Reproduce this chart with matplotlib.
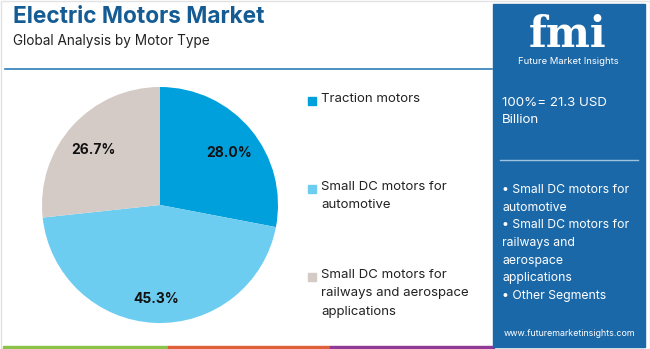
import matplotlib.pyplot as plt
from matplotlib.patches import Rectangle

plt.rcParams['font.family'] = ['Inter', 'DejaVu Sans']

segments = ['Traction motors', 'Small DC motors for\nautomotive',
            'Small DC motors for\nrailways and aerospace\napplications']
shares = [28.0, 45.3, 26.7]
colors = ['#00A0DC', '#6DCDF1', '#D4CAC6']

total_text = '100%= 21.3 USD\nBillion'
panel_items = ['• Small DC motors for\nautomotive',
               '• Small DC motors for\nrailways and\naerospace\napplications',
               '• Other Segments']

W, H = 650, 349
fig = plt.figure(figsize=(W / 100, H / 100), dpi=100)
fig.patch.set_facecolor('white')


def px(x, y):
    # pixel coords (from top-left) to figure fraction
    return x / W, 1 - y / H


# faint outer frame
fig.add_artist(Rectangle((0.5 / W, 0.5 / H), (W - 1) / W, (H - 1) / H, fill=False,
                         edgecolor='#E2E2E2', lw=1, transform=fig.transFigure))

# header
fig.text(*px(13, 17), 'Electric Motors Market', fontsize=16.3, fontweight='bold',
         color='#145C93', va='center', ha='left')
fig.text(*px(13, 41), 'Global Analysis by Motor Type', fontsize=9.8,
         color='#222222', va='center', ha='left')
fig.add_artist(plt.Line2D([5 / W, 492 / W], [1 - 69 / H, 1 - 69 / H],
                          color='#2E7DB5', lw=1.2))

# bottom colour strip
for x0, x1, c in [(3, 168, '#8BC34A'), (168, 330, '#E0603A'), (330, 494, '#8E3A96')]:
    fig.add_artist(Rectangle((x0 / W, 0), (x1 - x0) / W, 3 / H,
                             color=c, transform=fig.transFigure))

# right panel
fig.add_artist(Rectangle((493 / W, 2 / H), (645 - 493) / W, (346 - 3) / H,
                         color='#1B68A8', transform=fig.transFigure))
fig.text(*px(568, 47), 'fmi', fontsize=30, fontweight='bold', family='DejaVu Serif',
         color='white', ha='center', va='baseline')
fig.text(*px(568, 62), 'Future Market Insights', fontsize=6.8, color='white',
         ha='center', va='center')
fig.text(*px(502, 111.5), total_text, fontsize=9.6, color='white', ha='left',
         va='center', linespacing=1.5)
fig.add_artist(plt.Line2D([500 / W, 638 / W], [1 - 160 / H, 1 - 160 / H],
                          color='#9EC3E0', lw=1))
fig.text(*px(502, 243), '\n'.join(panel_items), fontsize=8.8, color='white',
         ha='left', va='center', linespacing=1.62)
fig.text(*px(570, 333), 'www.futuremarketinsights.com', fontsize=6.4,
         color='white', ha='center', va='center')

# pie
ax = fig.add_axes([42 / W, 26 / H, 236 / W, 236 / H])
wedges, _, autotexts = ax.pie(shares, colors=colors, startangle=90, counterclock=False,
                              autopct='%.1f%%', pctdistance=0.76,
                              wedgeprops=dict(linewidth=0))
for t in autotexts:
    t.set_fontsize(10)
    t.set_fontweight('bold')
    t.set_color('#111111')
    x, y = t.get_position()
    t.set_position((x, y - 0.04))
ax.set_xlim(-1, 1)
ax.set_ylim(-1, 1)
ax.set_aspect('equal')

# legend
legend_y = [101, 189, 277]
for y, label, c in zip(legend_y, segments, colors):
    fig.add_artist(Rectangle((308 / W, 1 - (y + 4) / H), 8 / W, 8 / H,
                             color=c, transform=fig.transFigure))
    fig.text(*px(321, y - 8), label, fontsize=9.5, color='#222222', ha='left',
             va='top', linespacing=1.7)

fig.savefig('out.png', dpi=100)
